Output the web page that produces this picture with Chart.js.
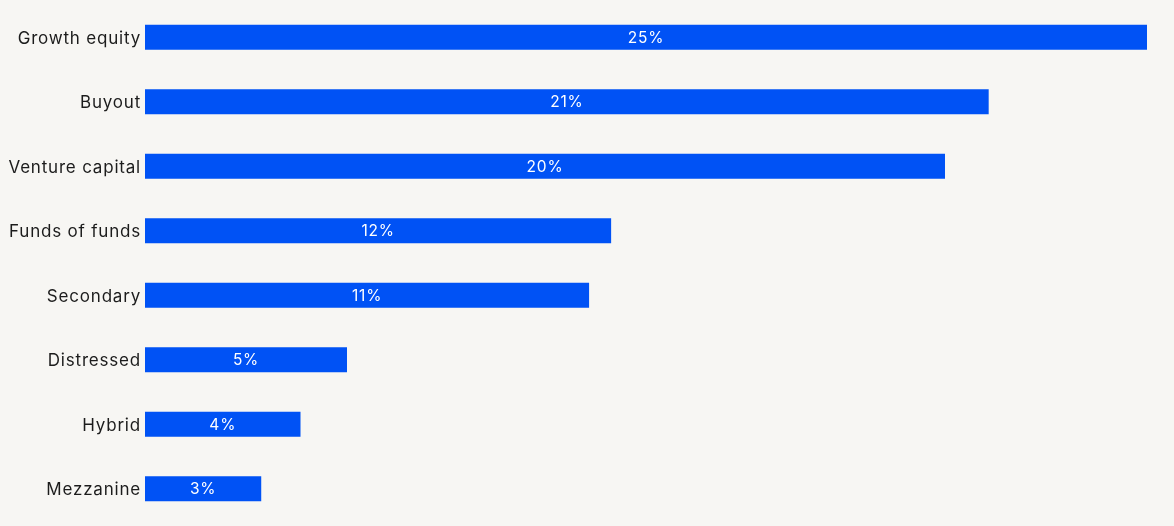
<!DOCTYPE html>
<html>
<head>
<meta charset="utf-8">
<script src="https://cdn.jsdelivr.net/npm/chart.js@4.4.1/dist/chart.umd.min.js"></script>
<style>
  html, body { margin: 0; padding: 0; background: #f7f6f3; }
  #wrap { width: 1174px; height: 526px; position: relative; }
</style>
</head>
<body>
<div id="wrap"><canvas id="c"></canvas></div>
<script>
const categories = ["Growth equity", "Buyout", "Venture capital", "Funds of funds", "Secondary", "Distressed", "Hybrid", "Mezzanine"];
const values = [25.0, 21.05, 19.96, 11.63, 11.08, 5.04, 3.88, 2.9];
const valueLabels = ["25%", "21%", "20%", "12%", "11%", "5%", "4%", "3%"];

const FONT = "Inter, 'DejaVu Sans', sans-serif";

const spacing = {
  id: 'spacing',
  beforeDraw(chart) { chart.ctx.letterSpacing = '0.8px'; }
};

const barLabels = {
  id: 'barLabels',
  afterDatasetsDraw(chart) {
    const ctx = chart.ctx;
    const meta = chart.getDatasetMeta(0);
    ctx.save();
    ctx.letterSpacing = '0.8px';
    ctx.fillStyle = '#ffffff';
    ctx.font = "15.5px " + FONT;
    ctx.textAlign = 'center';
    ctx.textBaseline = 'middle';
    meta.data.forEach((bar, i) => {
      const cx = (bar.x + bar.base) / 2;
      ctx.fillText(valueLabels[i], cx, bar.y + 1);
    });
    ctx.restore();
  }
};

new Chart(document.getElementById('c'), {
  type: 'bar',
  data: {
    labels: categories,
    datasets: [{
      data: values,
      backgroundColor: '#0052f5',
      borderWidth: 0,
      barPercentage: 0.388,
      categoryPercentage: 1.0
    }]
  },
  options: {
    indexAxis: 'y',
    responsive: true,
    maintainAspectRatio: false,
    animation: false,
    layout: { padding: { left: 0, right: 27, top: 5, bottom: 5 } },
    plugins: { legend: { display: false }, tooltip: { enabled: false } },
    scales: {
      x: { display: false, min: 0, max: 25 },
      y: {
        grid: { display: false, drawTicks: false },
        border: { display: false },
        ticks: {
          color: '#1c1c1c',
          padding: 4,
          labelOffset: 1.5,
          font: { family: FONT, size: 17 }
        },
        afterFit(scale) {
          scale.width = 145;
          scale.paddingTop = 0;
          scale.paddingBottom = 0;
        }
      }
    }
  },
  plugins: [spacing, barLabels]
});
</script>
</body>
</html>
